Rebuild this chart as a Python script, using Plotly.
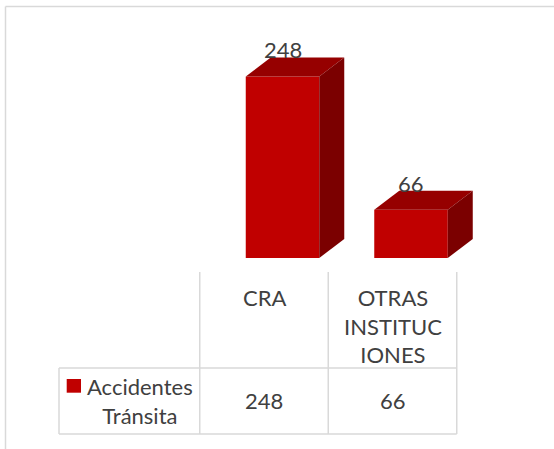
import plotly.graph_objects as go

# ---- data ----
categories = ["CRA", "OTRAS INSTITUCIONES"]
category_labels = ["CRA", "OTRAS<br>INSTITUC<br>IONES"]
series_name = "Accidentes Tránsita"
series_label = "Accidentes<br>Tránsita"
values = [248, 66]

# ---- geometry / style ----
W, H = 554, 449
PX_PER_X = 128.5      # pixels per category slot
X0_PX = 264.0         # pixel centre of first category
BASE_PX = 258.0       # pixel of bar base
PX_PER_V = 0.732      # pixels per value unit
FRONT_OFF = 0.144     # front face centre offset (x units)
FRONT_W = 0.572       # front face width (x units)
DEPTH_X = 25 / PX_PER_X
DEPTH_Y = 19 / PX_PER_V

FRONT = "#C00000"
TOP = "#960000"
SIDE = "#7B0000"
GRID = "#D9D9D9"
TXT = "#404040"
FONT = "Lato"
FS = 22


def py(px):
    return 1 - px / H


def xu(px):
    return (px - X0_PX) / PX_PER_X


fig = go.Figure()

idx = list(range(len(categories)))
front_x = [i + FRONT_OFF for i in idx]

# front faces
fig.add_trace(go.Bar(x=front_x, y=values, width=FRONT_W, name=series_name,
                     marker=dict(color=FRONT, line=dict(width=0)),
                     showlegend=False, hoverinfo="skip"))

# top and side faces computed from the values
for cx, v in zip(front_x, values):
    x0 = cx - FRONT_W / 2
    x1 = cx + FRONT_W / 2
    fig.add_trace(go.Scatter(
        x=[x0, x0 + DEPTH_X, x1 + DEPTH_X, x1, x0],
        y=[v, v + DEPTH_Y, v + DEPTH_Y, v, v],
        fill="toself", fillcolor=TOP, mode="lines", line=dict(width=0, color=TOP),
        showlegend=False, hoverinfo="skip"))
    fig.add_trace(go.Scatter(
        x=[x1, x1 + DEPTH_X, x1 + DEPTH_X, x1, x1],
        y=[0, DEPTH_Y, v + DEPTH_Y, v, 0],
        fill="toself", fillcolor=SIDE, mode="lines", line=dict(width=0, color=SIDE),
        showlegend=False, hoverinfo="skip"))

annotations = []
# data labels above bars
for cx, v in zip(front_x, values):
    annotations.append(dict(x=cx, y=v + DEPTH_Y, xref="x", yref="y", text=str(v),
                            showarrow=False, yanchor="bottom", yshift=-8,
                            font=dict(family=FONT, size=FS, color=TXT)))

shapes = []
# outer chart border (top and left visible)
shapes.append(dict(type="line", xref="paper", yref="paper", x0=5.5 / W, x1=1.0,
                   y0=py(6.5), y1=py(6.5), line=dict(color=GRID, width=1.5)))
shapes.append(dict(type="line", xref="paper", yref="paper", x0=5.5 / W, x1=5.5 / W,
                   y0=py(6.5), y1=0, line=dict(color=GRID, width=1.5)))

# data table
T_TOP, T_MID, T_BOT = 272, 368, 434
leg_left = xu(59)
last = len(categories) - 0.5
for b in [i - 0.5 for i in idx] + [last]:
    shapes.append(dict(type="line", xref="x", yref="paper", x0=b, x1=b,
                       y0=py(T_TOP), y1=py(T_BOT), line=dict(color=GRID, width=1.5)))
shapes.append(dict(type="line", xref="x", yref="paper", x0=leg_left, x1=leg_left,
                   y0=py(T_MID), y1=py(T_BOT), line=dict(color=GRID, width=1.5)))
for yy in (T_MID, T_BOT):
    shapes.append(dict(type="line", xref="x", yref="paper", x0=leg_left, x1=last,
                       y0=py(yy), y1=py(yy), line=dict(color=GRID, width=1.5)))

# header labels
for i, lab in zip(idx, category_labels):
    annotations.append(dict(x=i, y=py(282), xref="x", yref="paper", text=lab,
                            showarrow=False, yanchor="top", align="center",
                            font=dict(family=FONT, size=FS, color=TXT)))
# values row
for i, v in zip(idx, values):
    annotations.append(dict(x=i, y=py(400.7), xref="x", yref="paper", text=str(v),
                            showarrow=False, yanchor="middle",
                            font=dict(family=FONT, size=FS, color=TXT)))
# legend key + series name
shapes.append(dict(type="rect", xref="x", yref="paper", x0=xu(66.7), x1=xu(81),
                   y0=py(392.7), y1=py(379), fillcolor=FRONT, line=dict(width=0)))
annotations.append(dict(x=xu(139.6), y=py(400.5), xref="x", yref="paper",
                        text=series_label, showarrow=False, yanchor="middle",
                        align="center", font=dict(family=FONT, size=FS, color=TXT)))

fig.update_layout(
    width=W, height=H,
    margin=dict(l=0, r=0, t=0, b=0),
    paper_bgcolor="white", plot_bgcolor="white",
    xaxis=dict(range=[-X0_PX / PX_PER_X, (W - X0_PX) / PX_PER_X], visible=False,
               fixedrange=True),
    yaxis=dict(domain=[1 - BASE_PX / H, 1], range=[0, BASE_PX / PX_PER_V],
               visible=False, fixedrange=True),
    shapes=shapes, annotations=annotations, showlegend=False,
)

fig.write_html("out.html", config={"displayModeBar": False},
               post_script="document.body.style.margin='0';")
